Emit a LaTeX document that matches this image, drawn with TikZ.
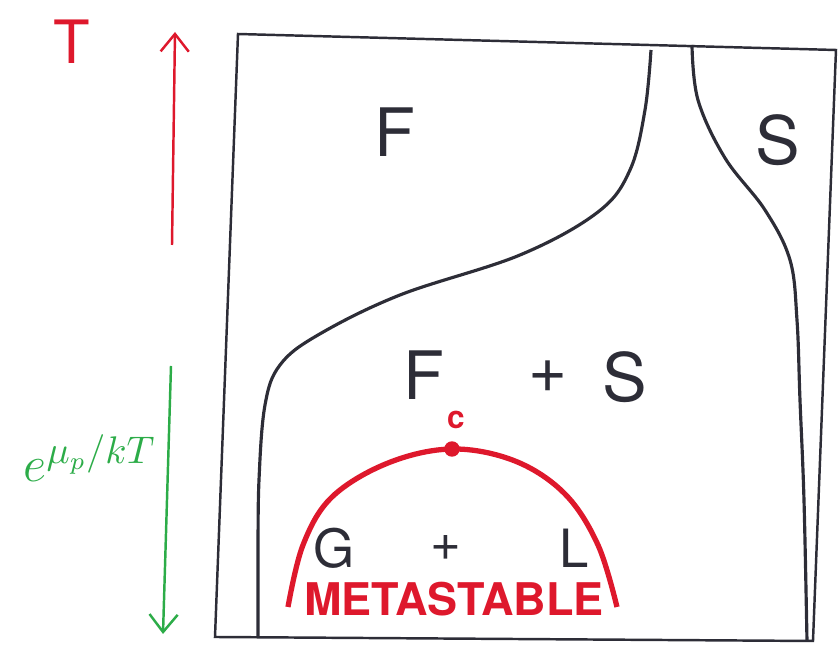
\documentclass[tikz,border=0pt]{standalone}
\usepackage{fontspec}
\setsansfont{TeX Gyre Heros}
\usetikzlibrary{arrows.meta}
\definecolor{penred}{RGB}{222,24,44}
\definecolor{pengreen}{RGB}{44,172,72}
\definecolor{penblack}{RGB}{45,45,55}
\begin{document}
\begin{tikzpicture}[x=0.01cm, y=-0.01cm, font=\sffamily,
    phase/.style={font=\sffamily\fontsize{19}{21}\selectfont, text=penblack},
    small/.style={font=\sffamily\fontsize{15}{17}\selectfont, text=penblack},
    barb/.style={line width=0.7pt, ->, >={Straight Barb[length=5pt, width=8pt]}}]
    \useasboundingbox (0,0) rectangle (838,655);

    % Outer frame (hand drawn, slightly skewed)
    \draw[penblack, line width=0.7pt] (238,34) -- (836,50) -- (813,641) -- (215,637) -- cycle;

    % Fluid / coexistence boundary
    \draw[penblack, line width=0.9pt] plot[smooth, tension=0.6] coordinates
        {(651,50) (645,110) (630,170) (598,212) (520,255) (400,295) (318,335) (280,365) (265,405) (259,480) (258,560) (258,637)};

    % Solid boundary
    \draw[penblack, line width=0.9pt] plot[smooth, tension=0.6] coordinates
        {(692,45) (698,100) (725,158) (765,210) (790,260) (797,320) (800,400) (804,500) (807,641)};

    % Metastable gas-liquid dome
    \draw[penred, line width=1.5pt] plot[smooth, tension=0.6] coordinates
        {(288,607) (303,545) (332,497) (388,463) (452,449) (515,461) (565,494) (598,545) (617,607)};
    \fill[penred] (452,449) circle (2.2pt);
    \node[text=penred, font=\sffamily\bfseries\small] (crit) at (456,420) {c};

    % Axis arrows
    \draw[penred, barb] (172,245) -- (175,32);
    \node[text=penred, font=\sffamily\fontsize{17}{19}\selectfont] (temp) at (72,42) {T};
    \draw[pengreen, barb] (171,366) -- (163,634);
    \node[text=pengreen, font=\sffamily\fontsize{15}{17}\selectfont] (fug) at (90,458) {$e^{\mu_p/kT}$};

    % Phase labels
    \node[phase] (fluid) at (395,132) {F};
    \node[phase] (solid) at (778,140) {S};
    \node[phase] (coexF) at (424,375) {F};
    \node[phase] (coexplus) at (548,377) {+};
    \node[phase] (coexS) at (625,377) {S};
    \node[small] (gas) at (334,548) {G};
    \node[small] (glplus) at (446,548) {+};
    \node[small] (liq) at (574,548) {L};
    \node[text=penred, font=\sffamily\bfseries\fontsize{12.8}{15}\selectfont] (meta) at (454,599) {METASTABLE};
\end{tikzpicture}
\end{document}
